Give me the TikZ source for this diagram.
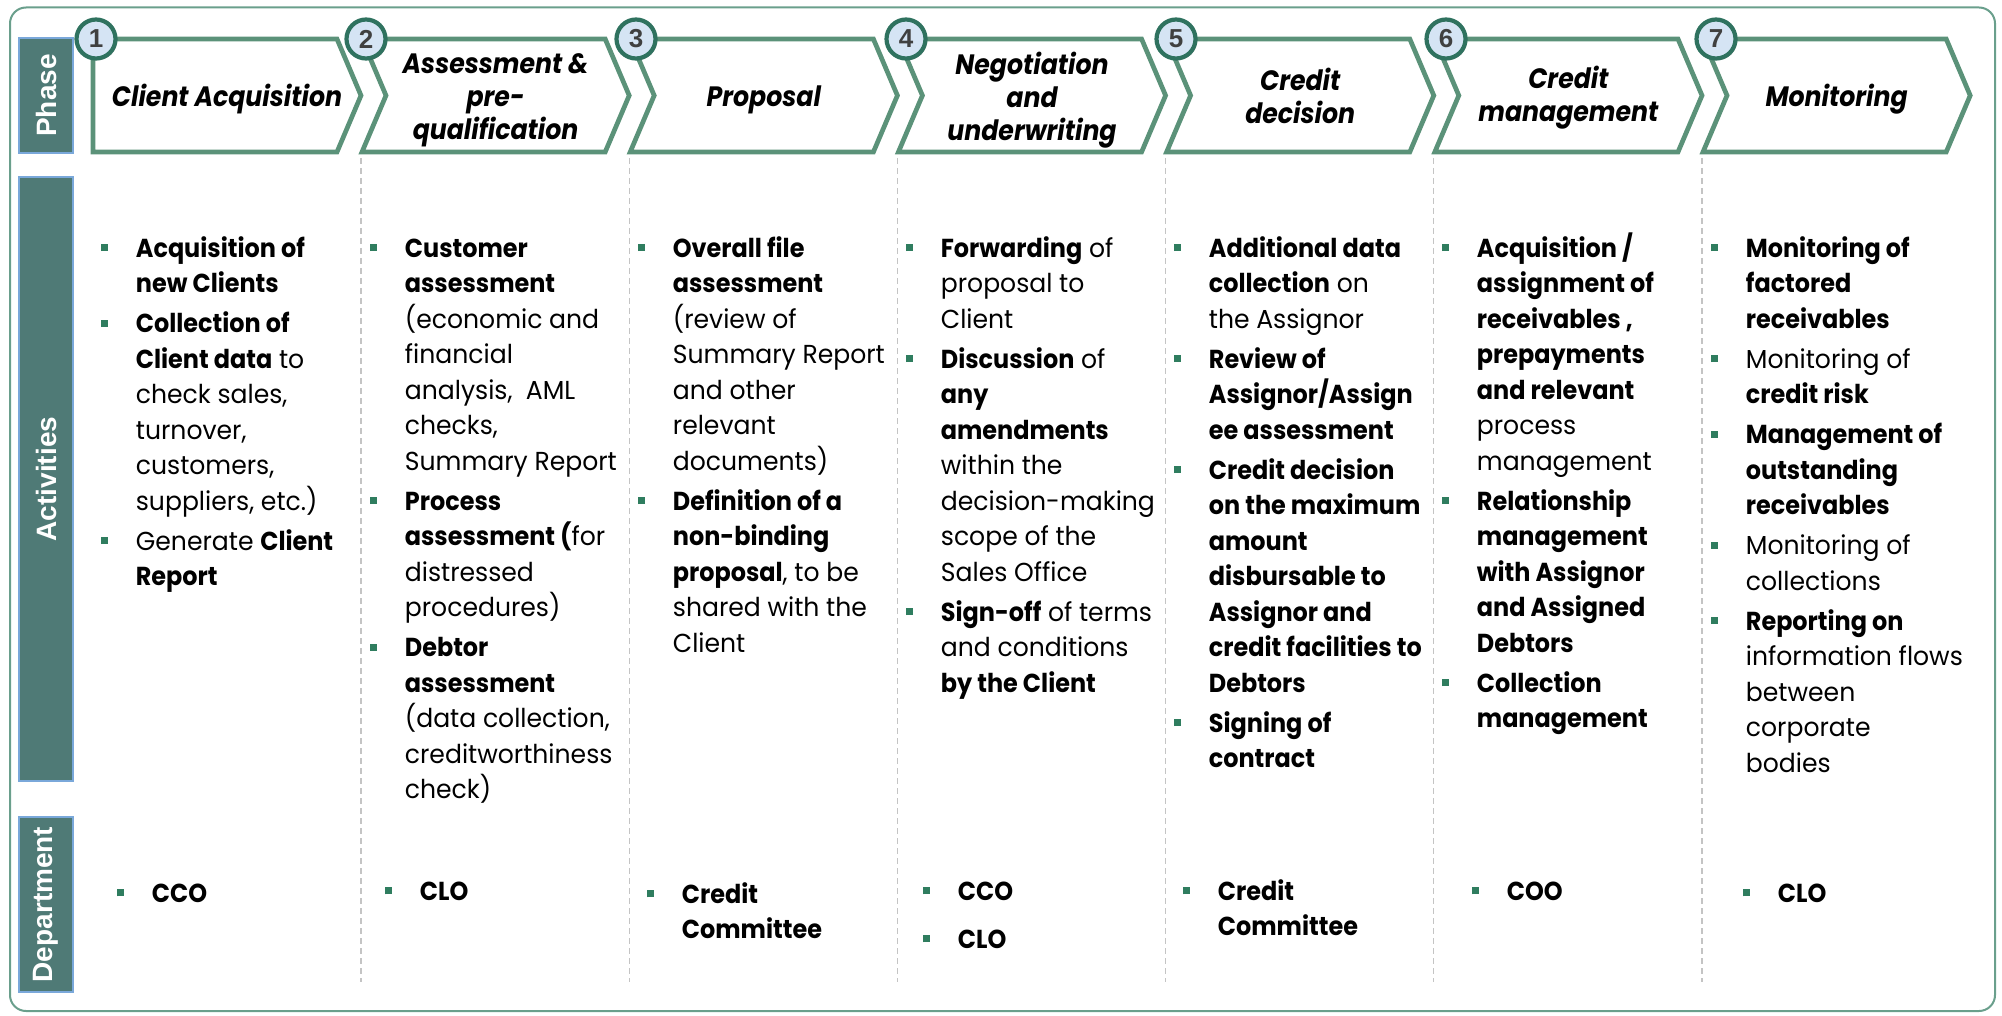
\documentclass[tikz,border=0pt]{standalone}
\usepackage{fontspec}
\setmainfont{Poppins}[UprightFeatures={FakeStretch=0.965},BoldFeatures={FakeStretch=0.92},BoldItalicFeatures={FakeStretch=0.9}]
\newfontfamily\arialf{Liberation Sans}
\usetikzlibrary{shadows}
\definecolor{chev}{HTML}{5B9279}
\definecolor{band}{HTML}{4F7A76}
\definecolor{bandedge}{HTML}{7AA8DA}
\definecolor{bulc}{HTML}{2F7D5F}
\definecolor{sepc}{HTML}{C4C4C4}
\definecolor{circf}{HTML}{D5E4F4}
\definecolor{circe}{HTML}{2F725F}
\definecolor{numc}{HTML}{404040}
\definecolor{framec}{HTML}{6A9F8C}
\newcommand\bl{\raisebox{3.1pt}{\textcolor{bulc}{\rule{3.5pt}{3.5pt}}}}
\newcommand\gap{\\[2.25pt]}
\newcommand\dgap{\\[6.25pt]}
\tikzset{
  bodytext/.style={inner sep=0pt, anchor=north west, font=\fontsize{13}{17.75}\selectfont, text=black},
  titletext/.style={align=center, font=\fontsize{14}{16.5}\selectfont\bfseries\itshape, inner sep=0pt},
  bandbox/.style={fill=band, draw=bandedge, line width=0.75pt},
  bandlabel/.style={rotate=90, text=white, font=\arialf\bfseries\fontsize{14}{16}\selectfont, inner sep=0pt},
  chevshape/.style={draw=chev, fill=white, line width=2.35pt, line join=miter},
  numcirc/.style={circle, draw=circe, line width=2.1pt, fill=circf, minimum size=19.5pt, inner sep=0pt,
     text=numc, font=\arialf\bfseries\fontsize{13}{14}\selectfont,
     drop shadow={shadow xshift=0.8pt, shadow yshift=-0.8pt, opacity=0.3, fill=black}},
  sepline/.style={draw=sepc, line width=0.6pt, dash pattern=on 3pt off 2pt},
  frameline/.style={draw=framec, line width=1pt, rounded corners=8pt}
}
\begin{document}
\begin{tikzpicture}[x=0.5pt,y=-0.5pt]
\useasboundingbox (0,0) rectangle (2002,1016);
% outer frame
\draw[frameline] (10,7.5) rectangle (1995,1011);
% band labels
\draw[bandbox] (19,38) rectangle (73,153);
\node[bandlabel] (lphase) at (46,95.5) {Phase};
\draw[bandbox] (19,177) rectangle (73,781);
\node[bandlabel] (lact) at (46,479) {Activities};
\draw[bandbox] (19,817) rectangle (73,992);
\node[bandlabel] (ldept) at (46,904.5) {Department};
% separators
\foreach \sx in {361,629.2,897.4,1165.6,1433.8,1702}
  \draw[sepline] (\sx,158) -- (\sx,982);
% chevrons
\draw[chevshape] (93,39) -- (337,39) -- (361,95.5) -- (337,152) -- (93,152) -- cycle;
\foreach \L/\R in {362/629.2, 630.2/897.4, 898.4/1165.6, 1166.6/1433.8, 1434.8/1702, 1703/1970.2}
  \draw[chevshape] (\L,39) -- (\R-24,39) -- (\R,95.5) -- (\R-24,152) -- (\L,152) -- (\L+24,95.5) -- cycle;
% titles
\node[titletext] (t1) at (227,99.5) {Client Acquisition};
\node[titletext] (t2) at (495.6,100.5) {Assessment \&\\pre-\\qualification};
\node[titletext] (t3) at (763.8,99.5) {Proposal};
\node[titletext] (t4) at (1032,100.5) {Negotiation\\and\\underwriting};
\node[titletext] (t5) at (1300.2,96) {Credit\\decision};
\node[titletext] (t6) at (1568.4,98) {Credit\\management};
\node[titletext] (t7) at (1836.6,99.5) {Monitoring};
% number circles
\foreach \k in {1,...,7}
  \node[numcirc] (n\k) at ({96+270*(\k-1)},39) {\k};
% activities
\node[bodytext] (act1) at (100.5,232.15) {\begin{tabular}{@{}p{17.5pt}@{}l@{}}
\bl & \textbf{Acquisition of}\\
 & \textbf{new Clients}\gap
\bl & \textbf{Collection of}\\
 & \textbf{Client data} to\\
 & check sales,\\
 & turnover,\\
 & customers,\\
 & suppliers, etc.)\gap
\bl & Generate \textbf{Client}\\
 & \textbf{Report}
\end{tabular}};
\node[bodytext] (act2) at (369.5,232.15) {\begin{tabular}{@{}p{17.5pt}@{}l@{}}
\bl & \textbf{Customer}\\
 & \textbf{assessment}\\
 & (economic and\\
 & financial\\
 & analysis,~ AML\\
 & checks,\\
 & Summary Report\gap
\bl & \textbf{Process}\\
 & \textbf{assessment (}for\\
 & distressed\\
 & procedures)\gap
\bl & \textbf{Debtor}\\
 & \textbf{assessment}\\
 & (data collection,\\
 & creditworthiness\\
 & check)
\end{tabular}};
\node[bodytext] (act3) at (637.5,232.15) {\begin{tabular}{@{}p{17.5pt}@{}l@{}}
\bl & \textbf{Overall file}\\
 & \textbf{assessment}\\
 & (review of\\
 & Summary Report\\
 & and other\\
 & relevant\\
 & documents)\gap
\bl & \textbf{Definition of a}\\
 & \textbf{non-binding}\\
 & \textbf{proposal}, to be\\
 & shared with the\\
 & Client
\end{tabular}};
\node[bodytext] (act4) at (905.5,232.15) {\begin{tabular}{@{}p{17.5pt}@{}l@{}}
\bl & \textbf{Forwarding} of\\
 & proposal to\\
 & Client\gap
\bl & \textbf{Discussion} of\\
 & \textbf{any}\\
 & \textbf{amendments}\\
 & within the\\
 & decision-making\\
 & scope of the\\
 & Sales Office\gap
\bl & \textbf{Sign-off} of terms\\
 & and conditions\\
 & \textbf{by the Client}
\end{tabular}};
\node[bodytext] (act5) at (1173.5,232.15) {\begin{tabular}{@{}p{17.5pt}@{}l@{}}
\bl & \textbf{Additional data}\\
 & \textbf{collection} on\\
 & the Assignor\gap
\bl & \textbf{Review of}\\
 & \textbf{Assignor/Assign}\\
 & \textbf{ee assessment}\gap
\bl & \textbf{Credit decision}\\
 & \textbf{on the maximum}\\
 & \textbf{amount}\\
 & \textbf{disbursable to}\\
 & \textbf{Assignor and}\\
 & \textbf{credit facilities to}\\
 & \textbf{Debtors}\gap
\bl & \textbf{Signing of}\\
 & \textbf{contract}
\end{tabular}};
\node[bodytext] (act6) at (1441.5,232.15) {\begin{tabular}{@{}p{17.5pt}@{}l@{}}
\bl & \textbf{Acquisition /}\\
 & \textbf{assignment of}\\
 & \textbf{receivables ,}\\
 & \textbf{prepayments}\\
 & \textbf{and relevant}\\
 & process\\
 & management\gap
\bl & \textbf{Relationship}\\
 & \textbf{management}\\
 & \textbf{with Assignor}\\
 & \textbf{and Assigned}\\
 & \textbf{Debtors}\gap
\bl & \textbf{Collection}\\
 & \textbf{management}
\end{tabular}};
\node[bodytext] (act7) at (1710.5,232.15) {\begin{tabular}{@{}p{17.5pt}@{}l@{}}
\bl & \textbf{Monitoring of}\\
 & \textbf{factored}\\
 & \textbf{receivables}\gap
\bl & Monitoring of\\
 & \textbf{credit risk}\gap
\bl & \textbf{Management of}\\
 & \textbf{outstanding}\\
 & \textbf{receivables}\gap
\bl & Monitoring of\\
 & collections\gap
\bl & \textbf{Reporting on}\\
 & information flows\\
 & between\\
 & corporate\\
 & bodies
\end{tabular}};
% departments
\node[bodytext] (d1) at (116.5,877.2) {\begin{tabular}{@{}p{17.5pt}@{}l@{}}
\bl & \textbf{CCO}
\end{tabular}};
\node[bodytext] (d2) at (384.5,875.2) {\begin{tabular}{@{}p{17.5pt}@{}l@{}}
\bl & \textbf{CLO}
\end{tabular}};
\node[bodytext] (d3) at (646.5,878.2) {\begin{tabular}{@{}p{17.5pt}@{}l@{}}
\bl & \textbf{Credit}\\
 & \textbf{Committee}
\end{tabular}};
\node[bodytext] (d4) at (922.5,875.2) {\begin{tabular}{@{}p{17.5pt}@{}l@{}}
\bl & \textbf{CCO}\dgap
\bl & \textbf{CLO}
\end{tabular}};
\node[bodytext] (d5) at (1182.5,875.2) {\begin{tabular}{@{}p{17.5pt}@{}l@{}}
\bl & \textbf{Credit}\\
 & \textbf{Committee}
\end{tabular}};
\node[bodytext] (d6) at (1471.5,875.2) {\begin{tabular}{@{}p{17.5pt}@{}l@{}}
\bl & \textbf{COO}
\end{tabular}};
\node[bodytext] (d7) at (1742.5,877.2) {\begin{tabular}{@{}p{17.5pt}@{}l@{}}
\bl & \textbf{CLO}
\end{tabular}};
\end{tikzpicture}
\end{document}
